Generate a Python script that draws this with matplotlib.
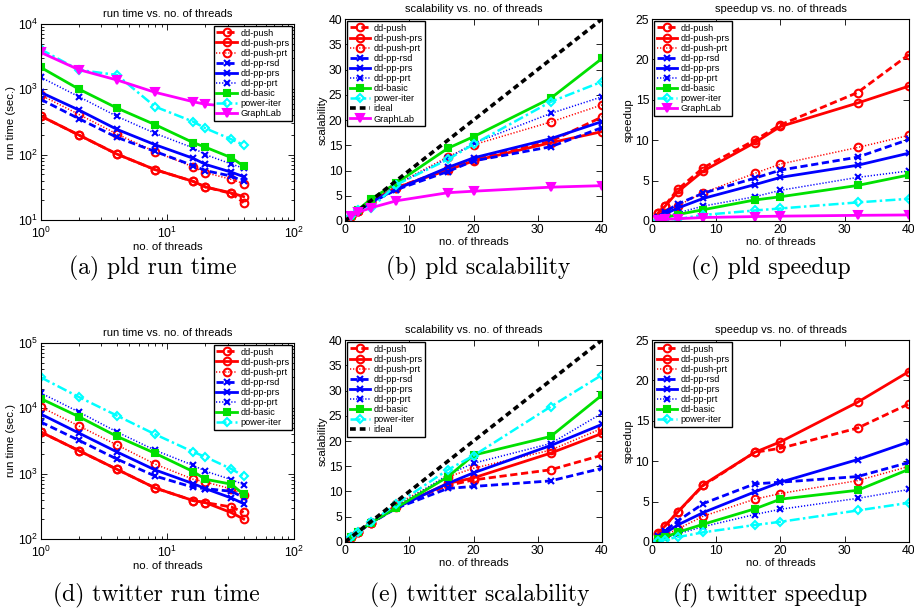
import matplotlib
matplotlib.use("Agg")
import matplotlib.pyplot as plt

plt.rcParams['font.family'] = ['Liberation Sans', 'DejaVu Sans']
plt.rcParams['mathtext.fontset'] = 'custom'
plt.rcParams['mathtext.rm'] = 'Liberation Sans'
plt.rcParams['mathtext.it'] = 'Liberation Sans:italic'

threads = [1, 2, 4, 8, 16, 20, 32, 40]

# pld run time (sec.)
pld_time_push = [391, 200, 102, 59, 39, 32, 25.5, 18.4]
pld_time_push_prs = [391, 200, 102, 59, 39, 32, 26, 22.8]
pld_time_push_prt = [818, 414, 207, 111, 65, 53, 42, 36]
pld_time_pp_rsd = [703, 356, 184, 112, 68, 57, 47, 39]
pld_time_pp_prs = [900, 483, 244, 142, 88, 71, 54, 46]
pld_time_pp_prt = [1530, 773, 386, 212, 127, 100, 72, 62]
pld_time_basic = [2170, 1010, 517, 288, 153, 130, 90, 67]
pld_time_power = [4100, 1980, 1660, 543, 320, 253, 172, 141]
pld_time_graphlab = [3680, 2000, 1390, 900, 646, 590, 550, 525]

# pld scalability
pld_scal_push = [1, 1.95, 3.8, 6.6, 10.3, 12.1, 15.8, 20.6]
pld_scal_push_prs = [1, 1.95, 3.8, 6.6, 10.1, 11.9, 15.5, 17.7]
pld_scal_push_prt = [1, 2.0, 4.0, 7.3, 12.7, 15.1, 19.6, 23.0]
pld_scal_pp_rsd = [1, 1.9, 3.6, 6.2, 9.8, 11.9, 14.7, 18.5]
pld_scal_pp_prs = [1, 1.9, 3.7, 6.3, 10.6, 12.5, 16.3, 19.7]
pld_scal_pp_prt = [1, 2.0, 4.0, 7.2, 12.4, 15.4, 21.3, 24.6]
pld_scal_basic = [1, 2.2, 4.3, 7.5, 14.4, 16.7, 24.3, 32.2]
pld_scal_power = [1, 2.1, 2.5, 7.2, 12.2, 15.2, 23.6, 27.6]
pld_scal_graphlab = [1, 1.7, 2.6, 4.0, 5.6, 5.9, 6.7, 7.0]

# pld speedup
pld_speed_push = [1.03, 1.9, 3.9, 6.6, 10.0, 11.9, 15.9, 20.6]
pld_speed_push_prs = [1.0, 1.8, 3.6, 6.2, 9.7, 11.7, 14.6, 16.7]
pld_speed_push_prt = [0.48, 0.94, 1.9, 3.5, 5.9, 7.05, 9.1, 10.6]
pld_speed_pp_rsd = [0.55, 1.1, 2.1, 3.45, 5.3, 6.3, 7.9, 10.1]
pld_speed_pp_prs = [0.43, 0.85, 1.6, 2.8, 4.5, 5.4, 6.9, 8.4]
pld_speed_pp_prt = [0.26, 0.5, 1.0, 1.85, 3.0, 3.8, 5.4, 6.2]
pld_speed_basic = [0.18, 0.4, 0.8, 1.4, 2.6, 3.0, 4.4, 5.7]
pld_speed_power = [0.1, 0.2, 0.24, 0.75, 1.3, 1.55, 2.3, 2.75]
pld_speed_graphlab = [0.1, 0.2, 0.28, 0.43, 0.55, 0.6, 0.7, 0.75]

# twitter run time (sec.)
tw_time_push = [4350, 2250, 1165, 604, 387, 360, 309, 256]
tw_time_push_prs = [4350, 2250, 1165, 604, 387, 360, 253, 202]
tw_time_push_prt = [10500, 5370, 2750, 1400, 820, 745, 583, 467]
tw_time_pp_rsd = [6180, 3240, 1670, 920, 618, 590, 537, 430]
tw_time_pp_prs = [8180, 4190, 2150, 1140, 703, 590, 424, 348]
tw_time_pp_prt = [17200, 8800, 4350, 2280, 1340, 1090, 810, 680]
tw_time_basic = [14100, 7450, 3720, 2050, 1075, 820, 690, 483]
tw_time_power = [29800, 14900, 7730, 4000, 2150, 1800, 1180, 920]

# twitter scalability
tw_scal_push = [1, 1.95, 3.75, 7.2, 11.2, 12.3, 14.3, 17.2]
tw_scal_push_prs = [1, 1.95, 3.75, 6.9, 11.6, 12.7, 17.6, 21.5]
tw_scal_push_prt = [1, 1.95, 3.8, 7.5, 12.9, 14.6, 18.2, 22.5]
tw_scal_pp_rsd = [1, 1.9, 3.7, 6.7, 10.6, 11.0, 12.1, 14.6]
tw_scal_pp_prs = [1, 1.95, 3.8, 6.8, 11.6, 13.7, 19.1, 23.3]
tw_scal_pp_prt = [1, 1.95, 3.9, 7.0, 13.3, 15.6, 19.5, 25.5]
tw_scal_basic = [1, 1.9, 3.8, 6.8, 12.9, 17.2, 20.9, 29.1]
tw_scal_power = [1, 2.0, 3.9, 7.5, 14.3, 17.1, 26.8, 33.1]

# twitter speedup
tw_speed_push = [1.0, 1.95, 3.7, 7.0, 11.1, 11.6, 14.1, 17.1]
tw_speed_push_prs = [1.07, 1.97, 3.7, 7.1, 11.1, 12.4, 17.3, 21.1]
tw_speed_push_prt = [0.41, 0.81, 1.6, 3.2, 5.3, 6.0, 7.6, 9.35]
tw_speed_pp_rsd = [0.7, 1.35, 2.6, 4.76, 7.2, 7.4, 8.1, 9.85]
tw_speed_pp_prs = [0.53, 1.07, 2.1, 3.65, 6.2, 7.4, 10.2, 12.4]
tw_speed_pp_prt = [0.25, 0.49, 1.0, 1.9, 3.4, 4.05, 5.4, 6.5]
tw_speed_basic = [0.31, 0.58, 1.2, 2.2, 4.1, 5.3, 6.4, 9.0]
tw_speed_power = [0.15, 0.29, 0.6, 1.2, 2.1, 2.5, 3.9, 4.85]

# line styles, matlab look
dash = (0, (2.6, 1.3))
dot = (0, (0.8, 1.2))
styles = {
    'dd-push': dict(color='#ff0000', ls=dash, marker='o', mfc='none', lw=2, ms=5.5),
    'dd-push-prs': dict(color='#ff0000', ls='-', marker='o', mfc='none', lw=2, ms=5.5),
    'dd-push-prt': dict(color='#ff0000', ls=dot, marker='o', mfc='none', lw=1.1, ms=5.5),
    'dd-pp-rsd': dict(color='#0000ff', ls=dash, marker='x', lw=2, ms=3.8),
    'dd-pp-prs': dict(color='#0000ff', ls='-', marker='x', lw=2, ms=3.8),
    'dd-pp-prt': dict(color='#0000ff', ls=dot, marker='x', lw=1.1, ms=3.8),
    'dd-basic': dict(color='#00e000', ls='-', marker='s', mfc='#00e000', lw=2, ms=5),
    'power-iter': dict(color='#00ffff', ls=(0, (4, 1.3, 1, 1.3)), marker='D', mfc='none', lw=1.8, ms=4.5),
    'ideal': dict(color='k', ls=(0, (1.6, 1.1)), lw=2.6),
    'GraphLab': dict(color='#ff00ff', ls='-', marker='v', mfc='#ff00ff', lw=2, ms=6),
}

fig = plt.figure(figsize=(9.14, 6.12), dpi=100)


def panel(rect, series, kind, title, ylabel, leg_loc):
    ax = fig.add_axes(rect)
    for name, vals in series:
        st = dict(mew=1.5)
        st.update(styles[name])
        ax.plot(threads if name != 'ideal' else [0, 40], vals, label=name, **st)
    if kind == 'log':
        ax.set_xscale('log')
        ax.set_yscale('log')
        ax.set_xlim(1, 100)
    else:
        ax.set_xlim(0, 40)
        ax.set_xticks([0, 10, 20, 30, 40])
        ax.set_ylim(0, 40 if kind == 'scal' else 25)
        ax.set_yticks(range(0, 41 if kind == 'scal' else 26, 5))
    ax.tick_params(which='both', direction='in', top=True, right=True,
                   labelsize=8.8, pad=2, width=0.6)
    if kind == 'log':
        ax.tick_params(axis='x', pad=4)
    ax.tick_params(which='major', length=4)
    ax.tick_params(which='minor', length=2)
    for s in ax.spines.values():
        s.set_linewidth(0.8)
    ax.set_title(title, fontsize=8, pad=5)
    ax.set_xlabel('no. of threads', fontsize=8.2, labelpad=1)
    ax.set_ylabel(ylabel, fontsize=8.2, labelpad=1)
    leg = ax.legend(loc=leg_loc, fontsize=6.6, fancybox=False, edgecolor='k',
                    framealpha=1, borderaxespad=0.2, labelspacing=0.12,
                    handlelength=2.2, handletextpad=0.4, borderpad=0.3)
    leg.get_frame().set_linewidth(1.0)
    return ax


col_l = [0.0445, 0.3775, 0.7133]
col_w = [0.2772, 0.2812, 0.2812]

ax = panel([col_l[0], 0.6405, col_w[0], 0.3203],
           [('dd-push', pld_time_push), ('dd-push-prs', pld_time_push_prs),
            ('dd-push-prt', pld_time_push_prt), ('dd-pp-rsd', pld_time_pp_rsd),
            ('dd-pp-prs', pld_time_pp_prs), ('dd-pp-prt', pld_time_pp_prt),
            ('dd-basic', pld_time_basic), ('power-iter', pld_time_power),
            ('GraphLab', pld_time_graphlab)],
           'log', 'run time vs. no. of threads', 'run time (sec.)', 'upper right')
ax.set_ylim(10, 1e4)

panel([col_l[1], 0.6389, col_w[1], 0.330],
      [('dd-push', pld_scal_push), ('dd-push-prs', pld_scal_push_prs),
       ('dd-push-prt', pld_scal_push_prt), ('dd-pp-rsd', pld_scal_pp_rsd),
       ('dd-pp-prs', pld_scal_pp_prs), ('dd-pp-prt', pld_scal_pp_prt),
       ('dd-basic', pld_scal_basic), ('power-iter', pld_scal_power),
       ('ideal', [0, 40]), ('GraphLab', pld_scal_graphlab)],
      'scal', 'scalability vs. no. of threads', 'scalability', 'upper left')

panel([col_l[2], 0.6389, col_w[2], 0.330],
      [('dd-push', pld_speed_push), ('dd-push-prs', pld_speed_push_prs),
       ('dd-push-prt', pld_speed_push_prt), ('dd-pp-rsd', pld_speed_pp_rsd),
       ('dd-pp-prs', pld_speed_pp_prs), ('dd-pp-prt', pld_speed_pp_prt),
       ('dd-basic', pld_speed_basic), ('power-iter', pld_speed_power),
       ('GraphLab', pld_speed_graphlab)],
      'speed', 'speedup vs. no. of threads', 'speedup', 'upper left')

ax = panel([col_l[0], 0.1193, col_w[0], 0.3203],
           [('dd-push', tw_time_push), ('dd-push-prs', tw_time_push_prs),
            ('dd-push-prt', tw_time_push_prt), ('dd-pp-rsd', tw_time_pp_rsd),
            ('dd-pp-prs', tw_time_pp_prs), ('dd-pp-prt', tw_time_pp_prt),
            ('dd-basic', tw_time_basic), ('power-iter', tw_time_power)],
           'log', 'run time vs. no. of threads', 'run time (sec.)', 'upper right')
ax.set_ylim(100, 1e5)

panel([col_l[1], 0.1144, col_w[1], 0.330],
      [('dd-push', tw_scal_push), ('dd-push-prs', tw_scal_push_prs),
       ('dd-push-prt', tw_scal_push_prt), ('dd-pp-rsd', tw_scal_pp_rsd),
       ('dd-pp-prs', tw_scal_pp_prs), ('dd-pp-prt', tw_scal_pp_prt),
       ('dd-basic', tw_scal_basic), ('power-iter', tw_scal_power),
       ('ideal', [0, 40])],
      'scal', 'scalability vs. no. of threads', 'scalability', 'upper left')

panel([col_l[2], 0.1144, col_w[2], 0.330],
      [('dd-push', tw_speed_push), ('dd-push-prs', tw_speed_push_prs),
       ('dd-push-prt', tw_speed_push_prt), ('dd-pp-rsd', tw_speed_pp_rsd),
       ('dd-pp-prs', tw_speed_pp_prs), ('dd-pp-prt', tw_speed_pp_prt),
       ('dd-basic', tw_speed_basic), ('power-iter', tw_speed_power)],
      'speed', 'speedup vs. no. of threads', 'speedup', 'upper left')

captions = [('(a) pld run time', 153, 268), ('(b) pld scalability', 478, 268),
            ('(c) pld speedup', 771, 268), ('(d) twitter run time', 156, 595),
            ('(e) twitter scalability', 480, 595), ('(f) twitter speedup', 770, 595)]
for txt, cx, cy in captions:
    fig.text(cx / 914, 1 - cy / 612, txt, fontfamily='cmr10', fontsize=17,
             ha='center', va='center')

fig.savefig('out.png', dpi=100)
